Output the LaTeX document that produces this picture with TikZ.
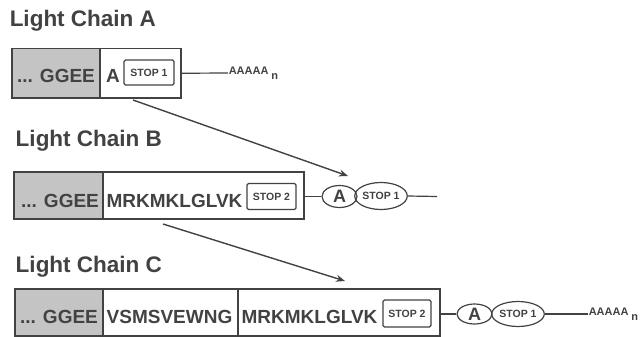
\documentclass[tikz,border=0pt]{standalone}
\usepackage{fontspec}
\setmainfont{Liberation Sans}
\usetikzlibrary{arrows.meta,shapes.geometric}
\definecolor{ink}{RGB}{66,66,66}
\definecolor{shade}{RGB}{196,196,196}
\begin{document}
\begin{tikzpicture}[x=1pt,y=-1pt,line width=1.5pt,draw=ink,text=ink,
  title/.style={anchor=base west,inner sep=0,font=\fontsize{22.5}{22.5}\selectfont\bfseries},
  seg/.style={draw=ink,anchor=north west,inner sep=0,minimum height=48},
  gseg/.style={seg,fill=shade},
  seq/.style={anchor=base,inner sep=0,font=\fontsize{19}{19}\selectfont\bfseries},
  stopbox/.style={draw=ink,line width=1.2pt,rounded corners=1.5pt,minimum width=49,minimum height=26,inner sep=0,font=\fontsize{10.5}{10.5}\selectfont\bfseries},
  ovalA/.style={ellipse,draw=ink,line width=1.2pt,minimum width=35,minimum height=22,inner sep=0,font=\fontsize{18}{18}\selectfont\bfseries},
  ovalS/.style={ellipse,draw=ink,line width=1.2pt,minimum width=49,minimum height=27,inner sep=0,font=\fontsize{10.5}{10.5}\selectfont\bfseries},
  polyA/.style={anchor=west,inner sep=0,font=\fontsize{11}{11}\selectfont\bfseries},
  link/.style={draw=ink,line width=1.2pt},
  jump/.style={draw=ink,line width=1.4pt,-{Stealth[length=9pt,width=7pt]}}]
\useasboundingbox (0,0) rectangle (640,337);

% ---------- Light Chain A
\node[title] (tA) at (9,27) {Light Chain A};
\node[gseg,minimum width=88,minimum height=49] (a1) at (11,48) {};
\node[seg,minimum width=81,minimum height=49] (a2) at (99,48) {};
\node[seq] (a1t) at (56,82) {... GGEE};
\node[seq] (a2t) at (113,82) {A};
\node[stopbox,minimum width=50,minimum height=25] (aS) at (149,72.5) {STOP 1};
\node[polyA] (aP) at (228,73) {AAAAA\hspace{3pt}\raisebox{-5pt}{n}};
\draw[link] (a2.east) -- (aP.west);

% ---------- Light Chain B
\node[title] (tB) at (15,146) {Light Chain B};
\node[gseg,minimum width=89,minimum height=47] (b1) at (13,171) {};
\node[seg,minimum width=201,minimum height=47] (b2) at (102,171) {};
\node[seq] (b1t) at (60,207) {... GGEE};
\node[seq] (b2t) at (174.5,207) {MRKMKLGLVK};
\node[stopbox] (bS) at (271.5,196.5) {STOP 2};
\node[ovalA] (bA) at (339.5,196.5) {A};
\node[ovalS] (bO) at (381,196) {STOP 1};
\coordinate (bEnd) at (437,196.5);
\draw[link] (b2.east |- bA.west) -- (bA.west);
\draw[link] (bO.east) -- (bEnd);

% ---------- Light Chain C
\node[title] (tC) at (15,272) {Light Chain C};
\node[gseg,minimum width=88,minimum height=47] (c1) at (14,288) {};
\node[seg,minimum width=135,minimum height=47] (c2) at (102,288) {};
\node[seg,minimum width=202,minimum height=47] (c3) at (237,288) {};
\node[seq] (c1t) at (59,323) {... GGEE};
\node[seq] (c2t) at (169.5,323) {VSMSVEWNG};
\node[seq] (c3t) at (309.5,323) {MRKMKLGLVK};
\node[stopbox,minimum width=48,minimum height=27] (cS) at (407,313.5) {STOP 2};
\node[ovalA,minimum height=20] (cA) at (474.5,314) {A};
\node[ovalS,minimum width=50,minimum height=25] (cO) at (518,314) {STOP 1};
\node[polyA] (cP) at (588,314) {AAAAA\hspace{3pt}\raisebox{-5pt}{n}};
\draw[link] (c3.east |- cA.west) -- (cA.west);
\draw[link] (cO.east) -- (cP.west);

% ---------- arrows
\coordinate (s1) at (133,100);
\coordinate (e1) at (348,176);
\coordinate (s2) at (163,224);
\coordinate (e2) at (345,281);
\draw[jump] (s1) -- (e1);
\draw[jump] (s2) -- (e2);
\end{tikzpicture}
\end{document}
